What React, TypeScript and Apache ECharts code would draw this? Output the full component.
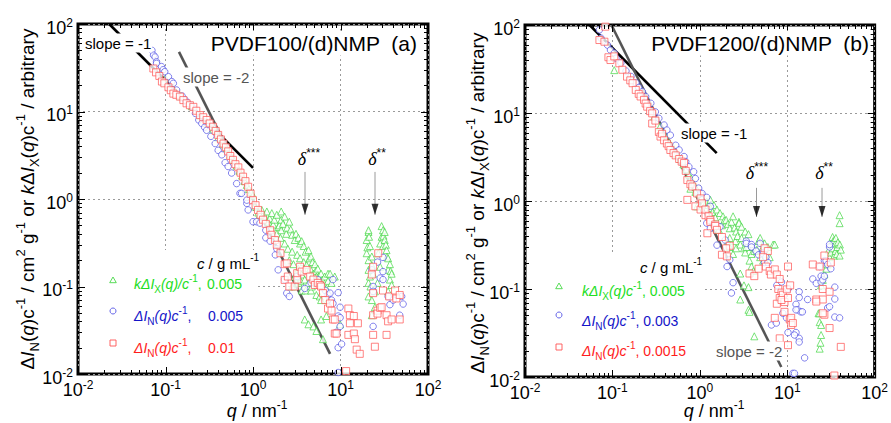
import React, { useEffect, useRef } from 'react';
import * as echarts from 'echarts';

// ---------- axis / tick labels ----------
const AXIS_MIN = 0.01;
const AXIS_MAX = 100;
const TICK_EXPONENTS = ['-2', '-1', '0', '1', '2'];
const DECADES = [0.01, 0.1, 1, 10, 100];
const MINOR_STEPS = [2, 3, 4, 5, 6, 7, 8, 9];

// ---------- panel (a) PVDF100/(d)NMP ----------
const A_KX_0005: number[][] = [
  [0.1, 24], [0.12, 19], [0.15, 15], [0.2, 11.5], [0.25, 9], [0.3, 7.5], [0.35, 6.2], [0.4, 5], [0.45, 4.2], [0.5, 3.8],
  [0.55, 3.2], [0.6, 2.8], [0.65, 2.4], [0.7, 2.1], [0.75, 1.85], [0.8, 1.6], [0.85, 1.45], [0.9, 1.3], [0.95, 1.2], [1.0, 1.1],
  [1.05, 0.82], [1.15, 0.7], [1.2, 0.66], [1.26, 0.75], [1.3, 0.6], [1.37, 0.63], [1.44, 0.72], [1.5, 0.55], [1.55, 0.6], [1.64, 0.69],
  [1.7, 0.51], [1.75, 0.58], [1.87, 0.66], [1.87, 0.4], [1.94, 0.48], [2.0, 0.5], [2.06, 0.36], [2.1, 0.72], [2.1, 0.44], [2.1, 0.58],
  [2.2, 0.52], [2.3, 0.63], [2.3, 0.31], [2.4, 0.4], [2.45, 0.47], [2.5, 0.27], [2.6, 0.55], [2.6, 0.2], [2.7, 0.45], [2.8, 0.39],
  [2.8, 0.25], [2.8, 0.1], [2.9, 0.18], [3.0, 0.34], [3.0, 0.13], [3.1, 0.4], [3.2, 0.23], [3.3, 0.36], [3.3, 0.16], [3.3, 0.11],
  [3.45, 0.31], [3.45, 0.21], [3.5, 0.115], [3.6, 0.33], [3.6, 0.137], [3.6, 0.09], [3.8, 0.29], [3.8, 0.19], [3.9, 0.12], [3.9, 0.042],
  [4.0, 0.25], [4.0, 0.09], [4.1, 0.176], [4.3, 0.26], [4.3, 0.11], [4.3, 0.037], [4.4, 0.21], [4.5, 0.16], [4.6, 0.22], [4.6, 0.09],
  [4.7, 0.1], [4.8, 0.19], [4.9, 0.14], [4.9, 0.035], [5.1, 0.18], [5.2, 0.15], [5.3, 0.13], [5.3, 0.08], [5.3, 0.031], [5.5, 0.16],
  [5.6, 0.13], [5.8, 0.12], [5.8, 0.077], [6.0, 0.14], [6.0, 0.07], [6.0, 0.042], [6.2, 0.12], [6.3, 0.104], [6.3, 0.025], [6.6, 0.13],
  [6.9, 0.095], [6.9, 0.046], [7.2, 0.116], [7.2, 0.07], [7.2, 0.14], [7.6, 0.14], [7.9, 0.11], [8.6, 0.13], [9.9, 0.037],
  [19.9, 0.34], [19.9, 0.24], [20.3, 0.28], [20.9, 0.42], [20.9, 0.44], [20.9, 0.2], [20.9, 0.155], [20.9, 0.11], [20.9, 0.077], [21.2, 0.37],
  [21.7, 0.29], [21.7, 0.13], [22.0, 0.1], [22.8, 0.22], [22.8, 0.176], [22.8, 0.07], [22.8, 0.047], [23.5, 0.14], [24.7, 0.058], [24.7, 0.088],
  [26.5, 0.11], [27, 0.24], [28.4, 0.168], [28.4, 0.31], [29.5, 0.49], [29.5, 0.37], [30.6, 0.44], [30.6, 0.29], [31, 0.38], [32, 0.42],
  [32, 0.34], [33, 0.3], [33.6, 0.26], [34, 0.22], [35, 0.21], [35, 0.155], [35, 0.088], [36.7, 0.18], [36.7, 0.12], [37.5, 0.15],
  [38.4, 0.14], [38.4, 0.104],
];
const A_N_0005: number[][] = [
  [0.07, 50], [0.073, 44], [0.076, 42], [0.079, 37], [0.079, 35.5], [0.09, 32.6], [0.094, 30], [0.098, 28.5], [0.108, 25], [0.118, 22],
  [0.123, 21], [0.134, 17.6], [0.155, 15], [0.167, 13.6], [0.18, 12.5], [0.2, 11.4], [0.22, 9.5], [0.24, 8.0], [0.26, 7.3], [0.28, 6.6],
  [0.295, 6.1], [0.33, 5.2], [0.37, 4.3], [0.4, 3.6], [0.44, 3.2], [0.48, 2.6], [0.52, 2.35], [0.57, 1.98], [0.65, 1.5], [0.71, 1.16],
  [0.74, 1.16], [0.85, 0.89], [0.85, 0.97], [0.88, 0.75], [1.0, 0.55], [1.1, 0.55], [1.2, 0.53], [1.4, 0.44], [1.4, 0.36], [1.57, 0.33],
  [1.8, 0.23], [1.87, 0.27], [1.94, 0.155], [2.3, 0.12], [2.43, 0.084], [2.6, 0.077], [3.2, 0.13], [3.9, 0.095], [4.6, 0.11], [5.5, 0.12],
  [6.7, 0.09], [7.2, 0.08], [7.6, 0.084], [7.9, 0.07], [8.2, 0.12], [8.2, 0.064], [9.0, 0.03], [9.4, 0.046], [9.4, 0.085], [9.4, 0.02],
  [9.4, 0.0104], [9.9, 0.035], [9.9, 0.058], [9.9, 0.044], [10.3, 0.022],
  [22.8, 0.155], [23.6, 0.1], [23.6, 0.088], [23.6, 0.035], [26.5, 0.19], [28.4, 0.125], [30.6, 0.215], [30.6, 0.148], [30.6, 0.12], [35, 0.077],
  [36.7, 0.062], [40, 0.07], [47.5, 0.047], [50, 0.077], [52, 0.063],
];
const A_N_001: number[][] = [
  [0.0726, 31], [0.078, 28], [0.085, 25.5], [0.091, 22], [0.097, 21], [0.108, 18.9], [0.115, 17.5], [0.123, 16], [0.133, 15.5], [0.146, 14.8],
  [0.16, 13.5], [0.174, 12.4], [0.19, 11.8], [0.208, 11.3], [0.225, 10.2], [0.247, 9.1], [0.27, 8.6], [0.295, 8], [0.32, 7.3], [0.35, 6.7],
  [0.375, 6], [0.4, 5.4], [0.43, 4.8], [0.46, 4.3], [0.49, 3.9], [0.52, 3.5], [0.55, 3.1], [0.59, 2.8], [0.63, 2.5], [0.68, 2.3],
  [0.72, 2.0], [0.77, 1.8], [0.82, 1.6], [0.88, 1.38], [0.94, 1.15], [1.0, 0.97], [1.07, 0.85], [1.14, 0.75], [1.22, 0.66], [1.3, 0.58],
  [1.4, 0.52], [1.57, 0.44], [1.62, 0.39], [1.78, 0.34], [1.87, 0.3], [2.06, 0.24], [2.3, 0.18], [2.43, 0.184], [2.3, 0.119], [2.5, 0.13],
  [2.6, 0.1], [3.0, 0.1], [3.2, 0.12], [3.2, 0.142], [3.45, 0.168], [3.6, 0.148], [4.1, 0.154], [4.5, 0.13], [4.9, 0.12], [5.1, 0.104],
  [5.5, 0.11], [5.8, 0.104], [6.0, 0.1], [6.3, 0.084], [6.7, 0.07], [7.2, 0.056], [7.6, 0.064], [7.9, 0.053], [8.2, 0.042], [8.6, 0.029],
  [8.6, 0.042], [9.0, 0.029],
  [11.6, 0.0108], [12.3, 0.028], [12.3, 0.056], [12.8, 0.047], [12.8, 0.038], [14.2, 0.046], [14.2, 0.029], [14.6, 0.025], [15.3, 0.019], [15.8, 0.038],
  [16.6, 0.017], [22.8, 0.137], [23.6, 0.168], [23.6, 0.084], [23.6, 0.047], [23.6, 0.028], [24.7, 0.0205], [26.5, 0.053], [26.5, 0.049], [27, 0.24],
  [28.4, 0.057], [29.5, 0.058], [30.6, 0.09], [33.6, 0.047], [33.6, 0.028], [35, 0.04], [36, 0.077], [38.4, 0.042], [42, 0.09], [43.5, 0.073],
  [47.5, 0.08], [47.5, 0.042],
];
const A_SLOPE_M1: number[][] = [[0.0227, 100], [1, 2.27]];
const A_SLOPE_M2: number[][] = [[0.1426, 48], [7.6, 0.017]];
const A_ARROWS: number[][] = [[3.93, 2.04, 0.66], [24.8, 2.04, 0.66]]; // x, top, tip

// ---------- panel (b) PVDF1200/(d)NMP ----------
const B_KX_0005: number[][] = [
  [0.105, 30.7], [0.3, 9], [0.35, 7], [0.4, 5.6], [0.45, 4.6], [0.5, 4], [0.55, 3.4], [0.6, 3], [0.65, 2.6], [0.7, 2.3],
  [0.75, 2], [0.78, 1.38], [0.8, 1.8], [0.89, 1.27], [0.89, 1.45], [0.93, 0.87], [1.0, 1.2], [1.06, 1.11], [1.1, 0.95], [1.2, 0.98],
  [1.25, 0.9], [1.32, 1.03], [1.32, 0.83], [1.4, 0.75], [1.45, 0.9], [1.5, 0.65], [1.57, 0.8], [1.65, 0.47], [1.7, 0.73], [1.79, 0.53],
  [1.84, 0.67], [1.9, 0.6], [2.0, 0.61], [2.1, 0.55], [2.1, 0.35], [2.2, 0.49], [2.2, 0.38], [2.2, 0.3], [2.3, 0.58], [2.4, 0.67],
  [2.4, 0.25], [2.5, 0.5], [2.55, 0.35], [2.6, 0.45], [2.6, 0.29], [2.7, 0.4], [2.8, 0.58], [2.8, 0.56], [2.9, 0.32], [2.9, 0.15],
  [2.9, 0.076], [3.0, 0.51], [3.0, 0.38], [3.2, 0.29], [3.2, 0.11], [3.3, 0.45], [3.3, 0.26], [3.4, 0.3], [3.6, 0.42], [3.6, 0.105],
  [3.6, 0.058], [3.7, 0.21], [3.7, 0.055], [3.9, 0.25], [3.9, 0.18], [4.0, 0.3], [4.1, 0.16], [4.2, 0.27], [4.2, 0.029], [4.5, 0.28],
  [4.7, 0.35], [4.9, 0.23], [4.9, 0.38], [5.0, 0.27], [5.3, 0.21], [5.5, 0.33], [5.8, 0.25], [6.0, 0.3], [6.3, 0.23], [6.9, 0.32],
  [7.2, 0.32],
  [22.8, 0.053], [23.5, 0.053], [23.5, 0.042], [23.5, 0.021], [24, 0.0245], [24.4, 0.11], [24.4, 0.039], [24.4, 0.03], [25.5, 0.127], [26.6, 0.146],
  [28, 0.17], [29, 0.19], [30, 0.28], [30.5, 0.23], [31.5, 0.26], [32, 0.33], [33, 0.39], [33, 0.29], [33.5, 0.35], [34.6, 0.36],
  [34.6, 0.24], [35.6, 0.33], [35.6, 0.27], [36, 0.38], [37, 0.25], [37.4, 0.3], [38, 0.34], [39.7, 0.69], [39.7, 0.56], [39.7, 0.24],
  [40, 0.32], [41, 0.28],
];
const B_N_0003: number[][] = [
  [0.071, 88], [0.074, 71], [0.088, 59], [0.095, 52], [0.105, 48], [0.11, 42], [0.125, 37], [0.143, 30], [0.163, 26], [0.186, 22],
  [0.2, 19.5], [0.22, 17.5], [0.24, 15.4], [0.275, 12.9], [0.31, 10.3], [0.34, 8.7], [0.39, 7.3], [0.42, 6.4], [0.46, 5.6], [0.53, 4.3],
  [0.58, 3.8], [0.66, 3.2], [0.69, 2.8], [0.75, 2.45], [0.85, 2.15], [0.89, 1.8], [0.97, 1.4], [1.02, 1.22], [1.06, 1.22], [1.2, 1.1],
  [1.32, 0.87], [1.2, 0.56], [1.32, 0.49], [1.57, 0.315], [1.7, 0.51], [1.95, 0.36], [2.05, 0.18], [2.2, 0.215], [2.4, 0.118], [2.3, 0.09],
  [3.4, 0.35], [3.4, 0.33], [3.9, 0.32], [3.9, 0.3], [4.4, 0.27], [4.7, 0.245], [4.9, 0.33], [5.3, 0.26], [5.3, 0.25], [5.5, 0.2],
  [5.7, 0.23], [6.0, 0.2], [7.6, 0.11], [8.6, 0.12], [10.2, 0.1], [6.6, 0.039], [7.5, 0.041], [9.8, 0.047], [8.9, 0.053], [11.6, 0.011],
  [13.7, 0.093], [12.6, 0.067], [13.2, 0.058], [14.3, 0.055], [10.2, 0.032], [12.6, 0.032], [13.7, 0.0275], [15.8, 0.0165], [12.1, 0.03], [13.7, 0.025],
  [17.1, 0.076], [19.6, 0.13], [21.5, 0.116], [23.5, 0.18], [24.4, 0.14], [24.4, 0.12], [25.5, 0.127], [26.6, 0.14], [26.6, 0.21], [27.8, 0.21],
  [29, 0.19], [30.5, 0.3], [30.5, 0.32], [31.5, 0.17], [35, 0.105], [35, 0.077], [29, 0.061], [30.5, 0.063], [35, 0.048], [39.7, 0.047],
  [13.7, 0.08], [12.6, 0.058], [14.9, 0.055], [12.1, 0.011],
];
const B_N_00015: number[][] = [
  [0.071, 67.5], [0.081, 64.6], [0.083, 95.7], [0.09, 43], [0.095, 40], [0.105, 44], [0.12, 36.7], [0.13, 31], [0.147, 25.9], [0.16, 23.5],
  [0.17, 21.8], [0.185, 18.3], [0.2, 16.5], [0.21, 15.4], [0.23, 14.1], [0.24, 12.8], [0.25, 11.8], [0.27, 10.5], [0.285, 9.9], [0.285, 7.6],
  [0.31, 8.2], [0.34, 6.1], [0.355, 5.4], [0.37, 5.8], [0.39, 4.9], [0.42, 4.5], [0.44, 4.2], [0.46, 3.8], [0.5, 3.5], [0.53, 3.3],
  [0.58, 3.0], [0.62, 2.8], [0.66, 2.7], [0.69, 2.2], [0.72, 1.73], [0.78, 1.55], [0.82, 1.46], [0.93, 1.22], [0.72, 1.03], [0.89, 0.87],
  [1.02, 0.8], [1.02, 1.07], [1.06, 0.94], [1.16, 0.69], [1.16, 0.8], [1.26, 0.67], [1.32, 0.61], [1.32, 0.58], [1.5, 0.54], [1.5, 0.52],
  [1.57, 0.47], [1.22, 0.43], [1.79, 0.39], [2.2, 0.31], [2.0, 0.29], [1.79, 0.245], [2.04, 0.235],
  [3.7, 0.15], [4.2, 0.14], [4.7, 0.17], [5.5, 0.29], [6.0, 0.27], [5.3, 0.23], [5.7, 0.18], [6.3, 0.16], [6.5, 0.146], [7.2, 0.167],
  [7.6, 0.146], [8.2, 0.13], [10.2, 0.18], [7.9, 0.1], [8.6, 0.091], [8.2, 0.079], [8.9, 0.086], [7.6, 0.068], [9.3, 0.071], [7.2, 0.047],
  [8.2, 0.0275], [10.2, 0.023], [9.3, 0.055], [9.9, 0.099], [10.7, 0.045], [11.1, 0.039], [8.6, 0.075], [10.2, 0.079], [10.8, 0.11], [11.1, 0.047],
  [11.6, 0.041],
  [19.6, 0.19], [23.5, 0.18], [26.6, 0.24], [31.5, 0.2], [25.5, 0.1], [30.5, 0.093], [21.5, 0.076], [25.5, 0.076], [26.6, 0.051], [30.5, 0.036],
  [41, 0.022], [34.6, 0.0104], [21.5, 0.072], [25.5, 0.053],
];
const B_SLOPE_M1: number[][] = [[0.0548, 100], [1.56, 3.5]];
const B_SLOPE_M2: number[][] = [[0.0975, 100], [8.55, 0.013]];
const B_ARROWS: number[][] = [[4.45, 1.41, 0.66], [25, 1.41, 0.66]];

// ---------- styles ----------
const FONT = '"Liberation Sans", Arial, Helvetica, sans-serif';
const SERIF = '"Liberation Serif", "Times New Roman", serif';
const GREEN = '#46d846';
const BLUE = '#5252e4';
const RED = '#ff5252';
const GREEN_T = '#22dd22';
const BLUE_T = '#1414c8';
const RED_T = '#ff1c1c';

function richSet(size: number, color: string, lh?: number): any {
  const small = Math.round(size * 0.68);
  const line = lh ?? size + 4;
  const h = Math.round(size * 0.48) - (size + 4 - line);
  return {
    n: { fontSize: size, fontFamily: FONT, fill: color, lineHeight: line },
    i: { fontSize: size, fontFamily: FONT, fontStyle: 'italic', fill: color, lineHeight: line },
    sup: { fontSize: small, fontFamily: FONT, fill: color, height: h, verticalAlign: 'top' },
    sub: { fontSize: small, fontFamily: FONT, fill: color, height: h, verticalAlign: 'bottom' },
    d: { fontSize: size, fontFamily: SERIF, fontStyle: 'italic', fill: color, lineHeight: line },
  };
}

function txt(x: number, y: number, text: string, size: number, color: string, align: string, extra: any = {}, rotation = 0, lh?: number): any {
  return {
    type: 'text',
    x,
    y,
    rotation,
    z: 20,
    silent: true,
    style: { text, rich: richSet(size, color, lh), align, verticalAlign: 'middle', ...extra },
  };
}

const Y_TITLE =
  '{n|Δ}{i|I}{sub|N}{n|(}{i|q}{n|)c}{sup|-1}{n| / cm}{sup|2}{n| g}{sup|-1}{n| or }{i|k}{n|Δ}{i|I}{sub|X}{n|(}{i|q}{n|)c}{sup|-1}{n| / arbitrary}';
const X_TITLE = '{i|q}{n| / nm}{sup|-1}';
const LEG_HEAD = '{i|c}{n| / g mL}{sup|-1}';

const TICK_DATA: number[][] = [];
DECADES.forEach((d, i) => {
  TICK_DATA.push([d, d, 1]);
  if (i < DECADES.length - 1) MINOR_STEPS.forEach((m) => TICK_DATA.push([m * d, m * d, 0]));
});

function tickRender(params: any, api: any) {
  const v = api.value(0);
  const L = api.value(2) === 1 ? 7 : 4;
  const b = api.coord([v, AXIS_MIN]);
  const t = api.coord([v, AXIS_MAX]);
  const l = api.coord([AXIS_MIN, v]);
  const r = api.coord([AXIS_MAX, v]);
  const px = (a: number) => Math.round(a) + 0.5;
  const style = { stroke: '#000', lineWidth: 1 };
  return {
    type: 'group',
    children: [
      { type: 'line', shape: { x1: px(b[0]), y1: b[1], x2: px(b[0]), y2: b[1] - L }, style },
      { type: 'line', shape: { x1: px(t[0]), y1: t[1], x2: px(t[0]), y2: t[1] + L }, style },
      { type: 'line', shape: { x1: l[0], y1: px(l[1]), x2: l[0] + L, y2: px(l[1]) }, style },
      { type: 'line', shape: { x1: r[0], y1: px(r[1]), x2: r[0] - L, y2: px(r[1]) }, style },
    ],
  };
}

const labelFormatter = (v: number) => {
  const idx = Math.round(Math.log10(v)) + 2;
  return '{b|10}{s|' + TICK_EXPONENTS[idx] + '}';
};
const labelRich = {
  b: { fontSize: 18, fontFamily: FONT, color: '#000', lineHeight: 18 },
  s: { fontSize: 12, fontFamily: FONT, color: '#000', height: 8, verticalAlign: 'top' },
};

function makeXAxis(gridIndex: number) {
  return {
    type: 'log',
    logBase: 10,
    gridIndex,
    min: AXIS_MIN,
    max: AXIS_MAX,
    axisLine: { show: false },
    axisTick: { show: false },
    splitLine: { show: true, lineStyle: { color: '#9a9a9a', width: 1, type: [2, 3] } },
    axisLabel: { formatter: labelFormatter, rich: labelRich, margin: 7 },
  };
}
function makeYAxis(gridIndex: number) {
  return {
    type: 'log',
    logBase: 10,
    gridIndex,
    min: AXIS_MIN,
    max: AXIS_MAX,
    axisLine: { show: false },
    axisTick: { show: false },
    splitLine: { show: true, lineStyle: { color: '#9a9a9a', width: 1, type: [2, 3] } },
    axisLabel: { formatter: labelFormatter, rich: labelRich, margin: 5, padding: [7, 0, 0, 0] },
  };
}

function scatter(data: number[][], g: number, symbol: string, size: number, color: string, z: number) {
  return {
    type: 'scatter',
    xAxisIndex: g,
    yAxisIndex: g,
    data,
    symbol,
    symbolSize: size,
    itemStyle: { color: '#fff', borderColor: color, borderWidth: 0.9 },
    z,
    silent: true,
  };
}
function slopeLine(data: number[][], g: number, color: string) {
  return {
    type: 'line',
    xAxisIndex: g,
    yAxisIndex: g,
    data,
    symbol: 'none',
    lineStyle: { color, width: 2.6 },
    z: 1,
    silent: true,
  };
}
function arrowSeries(arrows: number[][], g: number) {
  const out: any[] = [];
  arrows.forEach((a) => {
    out.push({
      type: 'line',
      xAxisIndex: g,
      yAxisIndex: g,
      data: [[a[0], a[1]], [a[0], a[2]]],
      symbol: 'none',
      lineStyle: { color: '#9a9a9a', width: 1 },
      z: 8,
      silent: true,
    });
  });
  out.push({
    type: 'scatter',
    xAxisIndex: g,
    yAxisIndex: g,
    data: arrows.map((a) => [a[0], a[2]]),
    symbol: 'triangle',
    symbolRotate: 180,
    symbolSize: [7, 11],
    symbolOffset: [0, -5.5],
    itemStyle: { color: '#000' },
    z: 9,
    silent: true,
  });
  return out;
}
function tickSeries(g: number) {
  return {
    type: 'custom',
    xAxisIndex: g,
    yAxisIndex: g,
    coordinateSystem: 'cartesian2d',
    data: TICK_DATA,
    encode: { x: 0, y: 1 },
    renderItem: tickRender,
    z: 10,
    silent: true,
  };
}

function legendMarkers(x: number, ys: number[]) {
  return [
    { type: 'polygon', z: 21, shape: { points: [[x, ys[0] - 3], [x - 3.3, ys[0] + 2.7], [x + 3.3, ys[0] + 2.7]] }, style: { fill: '#fff', stroke: GREEN, lineWidth: 0.9 } },
    { type: 'circle', z: 21, shape: { cx: x, cy: ys[1], r: 3 }, style: { fill: '#fff', stroke: BLUE, lineWidth: 0.9 } },
    { type: 'rect', z: 21, shape: { x: x - 3, y: ys[2] - 3, width: 6, height: 6 }, style: { fill: '#fff', stroke: RED, lineWidth: 0.9 } },
  ];
}

export default function App() {
  const ref = useRef<HTMLDivElement>(null);
  useEffect(() => {
    document.body.style.margin = '0';
    if (!ref.current) return;
    const chart = echarts.init(ref.current, undefined, { renderer: 'svg' });
    const white = { backgroundColor: '#fff', padding: [0, 1] };
    const graphic: any[] = [
      // legend boxes hiding the grid lines
      { type: 'rect', z: 1, silent: true, shape: { x: 80, y: 250, width: 177, height: 122 }, style: { fill: '#fff' } },
      { type: 'rect', z: 1, silent: true, shape: { x: 527, y: 255, width: 178, height: 120 }, style: { fill: '#fff' } },
      // axis titles
      txt(27, 199, Y_TITLE, 19, '#000', 'center', {}, Math.PI / 2),
      txt(477, 203, Y_TITLE, 19, '#000', 'center', {}, Math.PI / 2),
      txt(257, 411, X_TITLE, 18, '#000', 'center', {}, 0, 16),
      txt(714, 411, X_TITLE, 18, '#000', 'center', {}, 0, 16),
      // panel titles
      txt(418, 43, '{n|PVDF100/(d)NMP  (a)}', 21, '#000', 'right', white),
      txt(870, 43, '{n|PVDF1200/(d)NMP  (b)}', 21, '#000', 'right', white),
      // slope labels
      txt(84, 43, '{n|slope = -1}', 15, '#000', 'left', white),
      txt(182, 77, '{n|slope = -2}', 15, '#555', 'left', white),
      txt(680, 133, '{n|slope = -1}', 15, '#000', 'left', white),
      txt(715, 351, '{n|slope = -2}', 15, '#555', 'left', white),
      // delta labels
      txt(309, 159, '{d|δ}{sup|***}', 18, '#000', 'center'),
      txt(377, 159, '{d|δ}{sup|**}', 18, '#000', 'center'),
      txt(757, 173, '{d|δ}{sup|***}', 18, '#000', 'center'),
      txt(824, 173, '{d|δ}{sup|**}', 18, '#000', 'center'),
      // legend (a)
      txt(228, 263, LEG_HEAD, 15, '#000', 'center'),
      txt(134, 284, '{i|k}{i|ΔI}{sub|X}{i|(q)/c}{sup|-1}{n|,}', 14, GREEN_T, 'left'),
      txt(207, 284, '{n|0.005}', 14, GREEN_T, 'left'),
      txt(134, 316, '{i|ΔI}{sub|N}{i|(q)c}{sup|-1}{n|,}', 14, BLUE_T, 'left'),
      txt(208, 316, '{n|0.005}', 14, BLUE_T, 'left'),
      txt(134, 348, '{i|ΔI}{sub|N}{i|(q)c}{sup|-1}{n|,}', 14, RED_T, 'left'),
      txt(208, 348, '{n|0.01}', 14, RED_T, 'left'),
      ...legendMarkers(113, [280, 311, 343]),
      // legend (b)
      txt(671, 267, LEG_HEAD, 15, '#000', 'center'),
      txt(582, 291, '{i|k}{i|ΔI}{sub|X}{i|(q)c}{sup|-1}{n|, 0.005}', 14, GREEN_T, 'left'),
      txt(582, 321, '{i|ΔI}{sub|N}{i|(q)c}{sup|-1}{n|, 0.003}', 14, BLUE_T, 'left'),
      txt(582, 351, '{i|ΔI}{sub|N}{i|(q)c}{sup|-1}{n|, 0.0015}', 14, RED_T, 'left'),
      ...legendMarkers(559, [286, 315, 347]),
    ];

    const option: any = {
      animation: false,
      backgroundColor: '#fff',
      grid: [
        { left: 78, top: 24, width: 350, height: 350, show: true, borderColor: '#000', borderWidth: 3, backgroundColor: 'transparent' },
        { left: 525, top: 25, width: 352, height: 352, show: true, borderColor: '#000', borderWidth: 3, backgroundColor: 'transparent' },
      ],
      xAxis: [makeXAxis(0), makeXAxis(1)],
      yAxis: [makeYAxis(0), makeYAxis(1)],
      series: [
        slopeLine(A_SLOPE_M1, 0, '#000'),
        slopeLine(A_SLOPE_M2, 0, '#555'),
        scatter(A_KX_0005, 0, 'triangle', 7, GREEN, 3),
        scatter(A_N_0005, 0, 'circle', 6.5, BLUE, 4),
        scatter(A_N_001, 0, 'rect', 7, RED, 5),
        ...arrowSeries(A_ARROWS, 0),
        tickSeries(0),
        slopeLine(B_SLOPE_M1, 1, '#000'),
        slopeLine(B_SLOPE_M2, 1, '#555'),
        scatter(B_KX_0005, 1, 'triangle', 7, GREEN, 3),
        scatter(B_N_0003, 1, 'circle', 6.5, BLUE, 4),
        scatter(B_N_00015, 1, 'rect', 7, RED, 5),
        ...arrowSeries(B_ARROWS, 1),
        tickSeries(1),
      ],
      graphic,
    };
    chart.setOption(option);
    return () => chart.dispose();
  }, []);
  return <div ref={ref} style={{ width: 891, height: 423 }} />;
}
